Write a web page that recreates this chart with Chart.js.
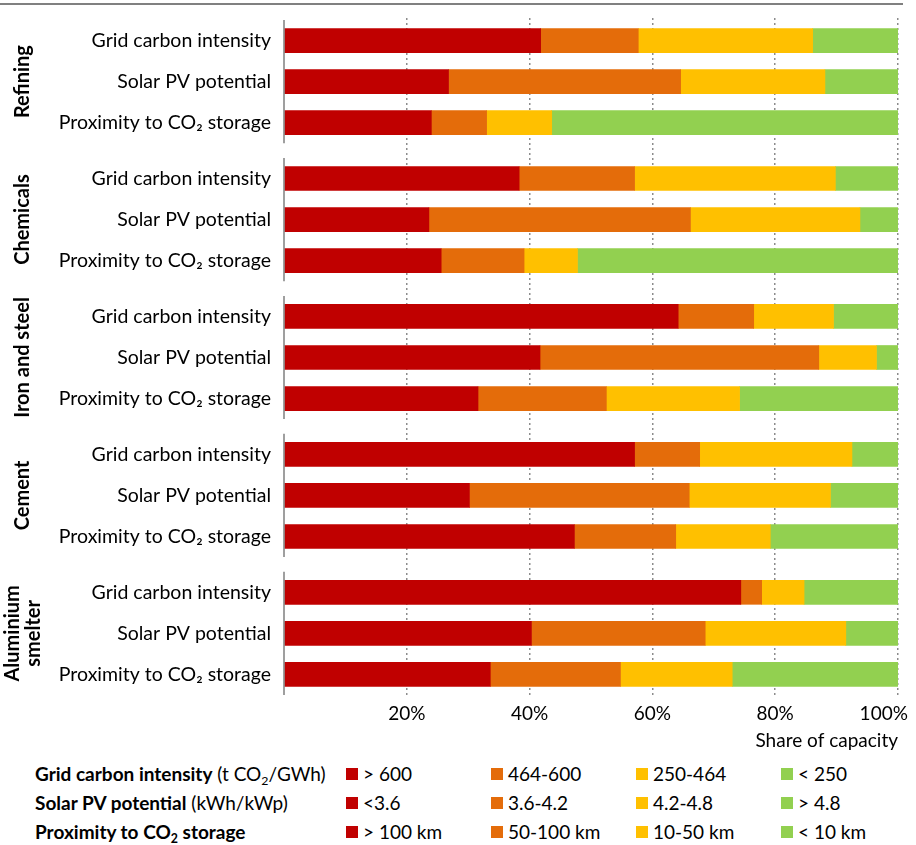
<!DOCTYPE html>
<html><head><meta charset="utf-8">
<script src="https://cdn.jsdelivr.net/npm/chart.js@4.4.1/dist/chart.umd.min.js"></script>
<style>
body{margin:0;background:#fff;font-family:Lato,"Noto Sans",sans-serif;color:#000;}
#wrap{position:relative;width:916px;height:845px;overflow:hidden;}
#topline{position:absolute;left:0;top:3px;width:903px;height:2px;background:#808080;}
#cw{position:absolute;left:0;top:0;width:916px;height:752px;}
#legend{position:absolute;left:35px;top:759px;}
.lrow{display:flex;align-items:center;height:29px;font-size:19px;white-space:nowrap;}
.lhead{width:311px;}
.lhead b{font-weight:700;}
.litem{display:flex;align-items:center;width:145px;}
.sw{width:12px;height:12px;margin-right:5px;flex:none;}
sub{font-size:65%;vertical-align:-0.3em;line-height:0;}
</style></head>
<body><div id="wrap"><div id="topline"></div><div id="cw"><canvas id="c"></canvas></div><div id="legend"></div></div>
<script>
// ---- data ----
const groups = ['Refining', 'Chemicals', 'Iron and steel', 'Cement', 'Aluminium\nsmelter'];
const indicators = ['Grid carbon intensity', 'Solar PV potential', 'Proximity to CO\u2082 storage'];
const classNames = ['Least favourable', 'Less favourable', 'More favourable', 'Most favourable'];
const colors = ['#C00000', '#E46C0A', '#FFC000', '#92D050'];
// share of capacity (%), order: per group -> grid, solar, CO2 storage
const red    = [41.8, 26.8, 24.0,  38.3, 23.6, 25.6,  64.2, 41.7, 31.6,  57.1, 30.2, 47.3,  74.4, 40.3, 33.6];
const orange = [15.9, 37.8,  9.0,  18.8, 42.6, 13.5,  12.3, 45.4, 20.9,  10.6, 35.8, 16.5,   3.4, 28.3, 21.2];
const yellow = [28.4, 23.5, 10.6,  32.7, 27.6,  8.7,  13.0,  9.4, 21.7,  24.8, 23.0, 15.4,   6.9, 22.9, 18.2];
const green  = [13.9, 11.9, 56.4,  10.2,  6.2, 52.2,  10.5,  3.5, 25.8,   7.5, 11.0, 20.8,  15.3,  8.5, 27.0];
const xTicks = [0, 20, 40, 60, 80, 100];
const xTitle = 'Share of capacity';
const legendRows = [
  {head: '<b>Grid carbon intensity</b> (t CO<sub>2</sub>/GWh)', items: ['&gt; 600', '464-600', '250-464', '&lt; 250']},
  {head: '<b>Solar PV potential</b> (kWh/kWp)', items: ['&lt;3.6', '3.6-4.2', '4.2-4.8', '&gt; 4.8']},
  {head: '<b>Proximity to CO<sub>2</sub> storage</b>', items: ['&gt; 100 km', '50-100 km', '10-50 km', '&lt; 10 km']}
];

// ---- layout helpers ----
const GROUP_GAP = 0.36;
const n = indicators.length;
const positions = [];
const labels = [];
groups.forEach((g, gi) => indicators.forEach((ind, ii) => {
  positions.push(gi * (n + GROUP_GAP) + ii);
  labels.push(ind);
}));
const series = [red, orange, yellow, green];
const datasets = series.map((arr, k) => ({
  label: classNames[k],
  data: arr.map((v, i) => ({x: v, y: positions[i]})),
  backgroundColor: colors[k],
  borderWidth: 0,
  barThickness: 24
}));

const FONT = 'Lato, "Noto Sans", sans-serif';

const groupPlugin = {
  id: 'groups',
  afterDraw(chart) {
    const ctx = chart.ctx, y = chart.scales.y, left = chart.chartArea.left;
    ctx.save();
    groups.forEach((g, gi) => {
      const p0 = positions[gi * n], p1 = positions[gi * n + n - 1];
      const top = y.getPixelForValue(p0 - 0.5), bot = y.getPixelForValue(p1 + 0.5);
      ctx.strokeStyle = '#7f7f7f';
      ctx.lineWidth = 1.5;
      ctx.beginPath(); ctx.moveTo(left, top); ctx.lineTo(left, bot); ctx.stroke();
      const cy = (top + bot) / 2;
      const lines = g.split('\n');
      ctx.save();
      ctx.translate(23, cy);
      ctx.rotate(-Math.PI / 2);
      ctx.fillStyle = '#000';
      ctx.font = 'bold 20px ' + FONT;
      ctx.textAlign = 'center';
      ctx.textBaseline = 'middle';
      const lh = 21;
      lines.forEach((ln, li) => ctx.fillText(ln, 0, (li - (lines.length - 1) / 2) * lh));
      ctx.restore();
    });
    ctx.restore();
  }
};

new Chart(document.getElementById('c'), {
  type: 'bar',
  data: {datasets},
  options: {
    indexAxis: 'y',
    responsive: true,
    maintainAspectRatio: false,
    animation: false,
    layout: {padding: {top: 18, right: 18, left: 0, bottom: 0}},
    plugins: {legend: {display: false}, tooltip: {enabled: false}},
    scales: {
      x: {
        type: 'linear', stacked: true, min: xTicks[0], max: xTicks[xTicks.length - 1],
        afterBuildTicks: s => { s.ticks = xTicks.map(v => ({value: v})); },
        afterFit: s => { s.height = 55; s.paddingRight = 0; s.paddingLeft = 0; },
        grid: {drawTicks: false, lineWidth: 1.5,
          color: c => (c.tick && c.tick.value === 0) ? 'rgba(0,0,0,0)' : '#8c8c8c'},
        border: {display: false, dash: [2, 3]},
        ticks: {padding: 5, color: '#000', maxRotation: 0, font: {family: FONT, size: 19},
          callback: v => v === 0 ? '' : (v === 100 ? v + '%\u2003\u2003' : v + '%')},
        title: {display: true, text: xTitle, align: 'end', color: '#000',
          font: {family: FONT, size: 19}, padding: {top: 0, bottom: 0}}
      },
      y: {
        type: 'linear', reverse: true, stacked: true, offset: false,
        min: -0.55, max: positions[positions.length - 1] + 0.55,
        afterBuildTicks: s => { s.ticks = positions.map(v => ({value: v})); },
        afterFit: s => { s.width = 284; s.paddingTop = 0; s.paddingBottom = 0; },
        grid: {display: false, drawTicks: false, offset: false},
        border: {display: false},
        ticks: {autoSkip: false, padding: 13, color: '#000', font: {family: FONT, size: 19.5},
          callback: (v, i) => labels[i]}
      }
    }
  },
  plugins: [groupPlugin]
});

// ---- legend ----
const lg = document.getElementById('legend');
legendRows.forEach(r => {
  const row = document.createElement('div');
  row.className = 'lrow';
  let html = '<div class="lhead">' + r.head + '</div>';
  r.items.forEach((t, k) => {
    html += '<div class="litem"><span class="sw" style="background:' + colors[k] + '"></span><span>' + t + '</span></div>';
  });
  row.innerHTML = html;
  lg.appendChild(row);
});
</script>
</body></html>
